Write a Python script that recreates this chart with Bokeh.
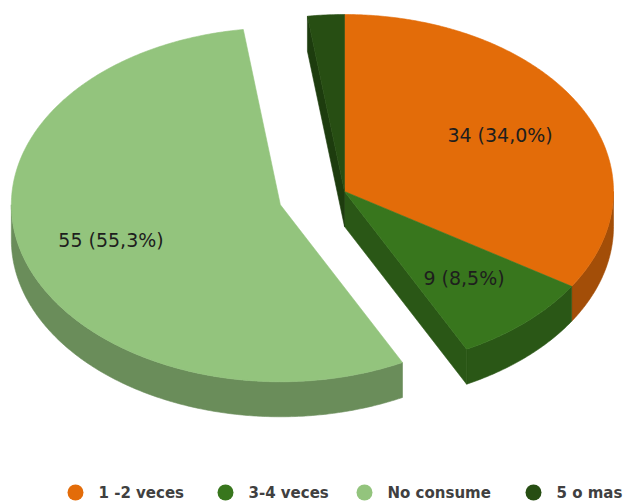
import numpy as np
from bokeh.plotting import figure
from bokeh.models import Range1d
from bokeh.core.properties import value
from bokeh.embed import file_html
from bokeh.resources import INLINE

# ---------------- data ----------------
categories = ["1 -2 veces", "3-4 veces", "No consume", "5 o mas"]
counts = [34, 9, 55, 2]
percents = [34.0, 8.5, 55.3, 2.2]
exploded = [False, False, True, False]
top_colors = ["#E36C09", "#38761D", "#93C47D", "#274E13"]
side_colors = ["#A34E08", "#2A5716", "#6A8D5A", "#1D3C0E"]

# ---------------- layout ----------------
W, H = 626, 502
CX, CY = 344.0, 191.0
RX, RY = 269.0, 177.0
DEPTH = 35.0
EXPLODE = 0.25
LABEL_R = 0.66

p = figure(width=W, height=H, x_range=Range1d(0, W), y_range=Range1d(H, 0),
           output_backend="svg", toolbar_location=None, min_border=0,
           x_axis_location=None, y_axis_location=None)
p.grid.visible = False
p.outline_line_color = None
p.background_fill_color = "white"
p.border_fill_color = "white"


def pt(cx, cy, t, r=1.0):
    tr = np.radians(t)
    return cx + r * RX * np.sin(tr), cy - r * RY * np.cos(tr)


total = sum(percents)
angles = np.cumsum([0.0] + [v / total * 360.0 for v in percents])
n = len(categories)

centers = []
for i in range(n):
    a, b = angles[i], angles[i + 1]
    if exploded[i]:
        mid = (a + b) / 2
        centers.append(pt(CX, CY, mid, EXPLODE))
    else:
        centers.append((CX, CY))

back_xs, back_ys, back_c = [], [], []
top_xs, top_ys, top_c = [], [], []
lab_x, lab_y, lab_t = [], [], []

for i in range(n):
    a, b = angles[i], angles[i + 1]
    cx, cy = centers[i]
    ts = np.linspace(a, b, max(int((b - a) * 2), 3))
    ax_, ay_ = pt(cx, cy, ts)
    # top
    top_xs.append([cx] + list(ax_))
    top_ys.append([cy] + list(ay_))
    top_c.append(top_colors[i])
    # outer wall (front half)
    lo, hi = max(a, 90.0), min(b, 270.0)
    if lo < hi:
        tw = np.linspace(lo, hi, max(int((hi - lo) * 2), 3))
        wx, wy = pt(cx, cy, tw)
        back_xs.append(list(wx) + list(wx[::-1]))
        back_ys.append(list(wy) + list((wy + DEPTH)[::-1]))
        back_c.append(side_colors[i])
    # radial faces exposed by explosion
    nxt, prv = (i + 1) % n, (i - 1) % n
    faces = []
    if exploded[nxt] != exploded[i] and np.sin(np.radians(b)) > 0:
        faces.append(b)
    if exploded[prv] != exploded[i] and np.sin(np.radians(a)) < 0:
        faces.append(a)
    for t in faces:
        ex, ey = pt(cx, cy, t)
        back_xs.append([cx, ex, ex, cx])
        back_ys.append([cy, ey, ey + DEPTH, cy + DEPTH])
        back_c.append(side_colors[i])
    # label
    if percents[i] > 5:
        lx, ly = pt(cx, cy, (a + b) / 2, LABEL_R)
        lab_x.append(lx)
        lab_y.append(ly)
        lab_t.append(f"{counts[i]} ({percents[i]:.1f}%)".replace(".", ","))

p.patches(back_xs, back_ys, fill_color=back_c, line_color=back_c, line_width=0.6)
p.patches(top_xs, top_ys, fill_color=top_c, line_color=top_c, line_width=0.6)

p.text(lab_x, lab_y, text=lab_t, text_font=value("DejaVu Sans"), text_font_size="19px",
       text_align="center", text_baseline="middle", text_color="#1E1E1E")

# legend
leg_x = [75, 225, 364, 533]
leg_y = 492
p.scatter(leg_x, [leg_y] * n, size=16, marker="circle", fill_color=top_colors, line_color=None)
p.text([x + 23 for x in leg_x], [leg_y] * n, text=categories, text_font=value("DejaVu Sans"),
       text_font_size="15px", text_font_style="bold", text_align="left",
       text_baseline="middle", text_color="#404040")

open("out.html", "w").write(file_html(p, INLINE))
